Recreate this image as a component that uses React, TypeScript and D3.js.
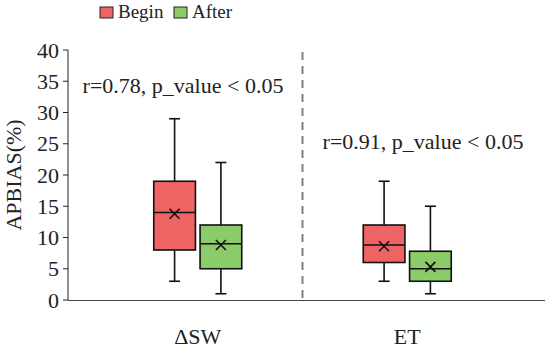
import React from "react";
import * as d3 from "d3";

const categories = ["ΔSW", "ET"];
const seriesNames = ["Begin", "After"];
const seriesColors = ["#ee6464", "#8ccb6a"];
// [min, q1, median, q3, max, mean] per category, per series
const beginStats = [
  [3, 8, 14, 19, 29, 13.8],
  [3, 6, 8.8, 12, 19, 8.6],
];
const afterStats = [
  [1, 5, 9, 12, 22, 8.8],
  [1, 3, 5, 7.8, 15, 5.3],
];
const yTicks = [0, 5, 10, 15, 20, 25, 30, 35, 40];
const annotations = ["r=0.78, p_value < 0.05", "r=0.91, p_value < 0.05"];

const font = "'Liberation Serif', 'Times New Roman', serif";

const App = () => {
  const width = 550;
  const height = 350;

  const y = d3.scaleLinear().domain([0, 40]).range([300, 50]);
  const x = d3.scaleBand<string>().domain(categories).range([93, 512]);
  const sub = d3.scaleBand<string>().domain(seriesNames).range([-44, 44]).paddingInner(0.1);

  const allStats = [beginStats, afterStats];
  const boxW = sub.bandwidth();
  const cap = 11;

  return (
    <div style={{ position: "absolute", left: 0, top: 0 }}>
      <svg width={width} height={height} style={{ display: "block", fontFamily: font }}>
        <rect width={width} height={height} fill="#fff" />
        {/* legend */}
        {seriesNames.map((s, i) => {
          const lx = i === 0 ? 100 : 174;
          return (
            <g key={s}>
              <rect x={lx} y={7} width={13} height={11} fill={seriesColors[i]} stroke="#222" strokeWidth={1} />
              <text x={lx + 18} y={18} fontSize={19} fill="#222">{s}</text>
            </g>
          );
        })}

        {/* y axis */}
        <line x1={68} x2={68} y1={y(40)} y2={y(0)} stroke="#222" strokeWidth={1} />
        {yTicks.map((t) => (
          <g key={t}>
            <line x1={63} x2={68} y1={y(t)} y2={y(t)} stroke="#222" />
            <text x={59} y={y(t)} dy="0.35em" textAnchor="end" fontSize={22} fill="#222">{t}</text>
          </g>
        ))}
        <text transform={`translate(13,${y(20)}) rotate(-90)`} textAnchor="middle" dy="0.35em" fontSize={22} fill="#222">
          APBIAS(%)
        </text>

        {/* x axis */}
        <line x1={68} x2={545} y1={y(0) + 0.5} y2={y(0) + 0.5} stroke="#444" strokeWidth={1} />
        {categories.map((c) => (
          <text key={c} x={x(c)! + x.bandwidth() / 2} y={344} textAnchor="middle" fontSize={22} fill="#222">{c}</text>
        ))}

        {/* separator */}
        <line x1={x("ET")!} x2={x("ET")!} y1={y(40) + 2} y2={y(0)} stroke="#808080" strokeWidth={2} strokeDasharray="8,6" />

        {/* annotations */}
        <text x={183} y={93} textAnchor="middle" fontSize={22} fill="#222">{annotations[0]}</text>
        <text x={423} y={149} textAnchor="middle" fontSize={22} fill="#222">{annotations[1]}</text>

        {/* boxes */}
        {categories.map((c, ci) =>
          seriesNames.map((s, si) => {
            const [mn, q1, med, q3, mx, mean] = allStats[si][ci];
            const cx = x(c)! + x.bandwidth() / 2 + sub(s)! + boxW / 2;
            const x0 = cx - boxW / 2;
            const mY = y(mean);
            return (
              <g key={c + s} stroke="#111" strokeWidth={1.6}>
                <line x1={cx} x2={cx} y1={y(mx)} y2={y(q3)} />
                <line x1={cx} x2={cx} y1={y(q1)} y2={y(mn)} />
                <line x1={cx - cap / 2} x2={cx + cap / 2} y1={y(mx)} y2={y(mx)} />
                <line x1={cx - cap / 2} x2={cx + cap / 2} y1={y(mn)} y2={y(mn)} />
                <rect x={x0} y={y(q3)} width={boxW} height={y(q1) - y(q3)} fill={seriesColors[si]} />
                <line x1={x0} x2={x0 + boxW} y1={y(med)} y2={y(med)} />
                <line x1={cx - 5} x2={cx + 5} y1={mY - 5} y2={mY + 5} />
                <line x1={cx - 5} x2={cx + 5} y1={mY + 5} y2={mY - 5} />
              </g>
            );
          })
        )}
      </svg>
    </div>
  );
};

export default App;
